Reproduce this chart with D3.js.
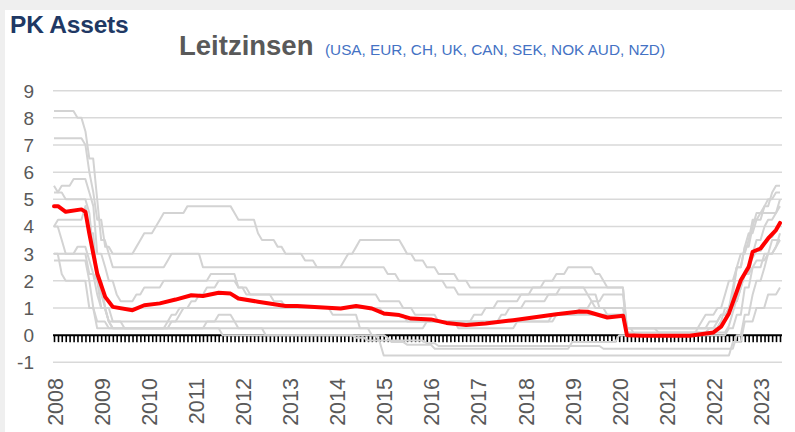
<!DOCTYPE html>
<html>
<head>
<meta charset="utf-8">
<script src="https://cdn.jsdelivr.net/npm/d3@7"></script>
<style>
  html, body { margin: 0; padding: 0; background: #f0f0f0; }
  svg { display: block; }
</style>
</head>
<body>
<div class="container"></div>
<script>
// Leitzinsen (Monatsende), Änderungen je Notenbank: [Monat, Satz]
const usa = [["2008-01",3.0],["2008-03",2.25],["2008-04",2.0],["2008-10",1.0],["2008-12",0.25],["2015-12",0.5],["2016-12",0.75],["2017-03",1.0],["2017-06",1.25],["2017-12",1.5],["2018-03",1.75],["2018-06",2.0],["2018-09",2.25],["2018-12",2.5],["2019-07",2.25],["2019-09",2.0],["2019-10",1.75],["2020-03",0.25],["2022-03",0.5],["2022-05",1.0],["2022-06",1.75],["2022-07",2.5],["2022-09",3.25],["2022-11",4.0],["2022-12",4.5],["2023-02",4.75],["2023-03",5.0],["2023-05",5.25]];
const eur = [["2008-01",3.0],["2008-07",3.25],["2008-10",2.75],["2008-11",2.25],["2008-12",2.0],["2009-01",1.0],["2009-03",0.5],["2009-04",0.25],["2011-04",0.5],["2011-07",0.75],["2011-11",0.5],["2011-12",0.25],["2012-07",0.0],["2014-06",-0.1],["2014-09",-0.2],["2015-12",-0.3],["2016-03",-0.4],["2019-09",-0.5],["2022-07",0.0],["2022-09",0.75],["2022-11",1.5],["2022-12",2.0],["2023-02",2.5],["2023-03",3.0],["2023-05",3.25],["2023-06",3.5]];
const ch = [["2008-01",2.75],["2008-10",2.0],["2008-11",1.0],["2008-12",0.5],["2009-03",0.25],["2011-08",0.0],["2014-12",-0.25],["2015-01",-0.75],["2022-06",-0.25],["2022-09",0.5],["2022-12",1.0],["2023-03",1.5],["2023-06",1.75]];
const uk = [["2008-01",5.5],["2008-02",5.25],["2008-04",5.0],["2008-10",4.5],["2008-11",3.0],["2008-12",2.0],["2009-01",1.5],["2009-02",1.0],["2009-03",0.5],["2016-08",0.25],["2017-11",0.5],["2018-08",0.75],["2020-03",0.1],["2021-12",0.25],["2022-02",0.5],["2022-03",0.75],["2022-05",1.0],["2022-06",1.25],["2022-08",1.75],["2022-09",2.25],["2022-11",3.0],["2022-12",3.5],["2023-02",4.0],["2023-03",4.25],["2023-05",4.5],["2023-06",5.0]];
const can = [["2008-01",4.0],["2008-03",3.5],["2008-04",3.0],["2008-10",2.25],["2008-12",1.5],["2009-01",1.0],["2009-03",0.5],["2009-04",0.25],["2010-06",0.5],["2010-07",0.75],["2010-09",1.0],["2015-01",0.75],["2015-07",0.5],["2017-07",0.75],["2017-09",1.0],["2018-01",1.25],["2018-07",1.5],["2018-10",1.75],["2020-03",0.25],["2022-03",0.5],["2022-04",1.0],["2022-06",1.5],["2022-07",2.5],["2022-09",3.25],["2022-10",3.75],["2022-12",4.25],["2023-01",4.5],["2023-06",4.75]];
const sek = [["2008-01",4.0],["2008-02",4.25],["2008-09",4.75],["2008-10",3.75],["2008-12",2.0],["2009-02",1.0],["2009-04",0.5],["2009-07",0.25],["2010-07",0.5],["2010-09",0.75],["2010-10",1.0],["2010-12",1.25],["2011-02",1.5],["2011-04",1.75],["2011-07",2.0],["2011-12",1.75],["2012-02",1.5],["2012-09",1.25],["2012-12",1.0],["2013-12",0.75],["2014-07",0.25],["2014-10",0.0],["2015-02",-0.1],["2015-03",-0.25],["2015-07",-0.35],["2016-02",-0.5],["2019-01",-0.25],["2020-01",0.0],["2022-05",0.25],["2022-07",0.75],["2022-09",1.75],["2022-11",2.5],["2023-02",3.0],["2023-04",3.5]];
const nok = [["2008-01",5.25],["2008-03",5.5],["2008-06",5.75],["2008-10",5.25],["2008-11",4.75],["2008-12",3.0],["2009-02",2.5],["2009-03",2.0],["2009-05",1.5],["2009-06",1.25],["2009-10",1.5],["2009-12",1.75],["2010-05",2.0],["2011-05",2.25],["2011-12",1.75],["2012-03",1.5],["2014-12",1.25],["2015-06",1.0],["2015-09",0.75],["2016-03",0.5],["2018-09",0.75],["2019-03",1.0],["2019-06",1.25],["2019-09",1.5],["2020-03",0.25],["2020-05",0.0],["2021-09",0.25],["2021-12",0.5],["2022-03",0.75],["2022-06",1.25],["2022-08",1.75],["2022-09",2.25],["2022-11",2.5],["2022-12",2.75],["2023-03",3.0],["2023-05",3.25],["2023-06",3.75]];
const aud = [["2008-01",7.25],["2008-09",7.0],["2008-10",6.0],["2008-11",5.25],["2008-12",4.25],["2009-02",3.25],["2009-04",3.0],["2009-10",3.25],["2009-11",3.5],["2009-12",3.75],["2010-03",4.0],["2010-04",4.25],["2010-05",4.5],["2010-11",4.75],["2011-11",4.5],["2011-12",4.25],["2012-05",3.75],["2012-06",3.5],["2012-10",3.25],["2012-12",3.0],["2013-05",2.75],["2013-08",2.5],["2015-02",2.25],["2015-05",2.0],["2016-05",1.75],["2016-08",1.5],["2019-06",1.25],["2019-07",1.0],["2019-10",0.75],["2020-03",0.25],["2020-11",0.1],["2022-05",0.35],["2022-06",0.85],["2022-07",1.35],["2022-08",1.85],["2022-09",2.35],["2022-10",2.6],["2022-11",2.85],["2022-12",3.1],["2023-02",3.35],["2023-03",3.6],["2023-05",3.85],["2023-06",4.1]];
const nzd = [["2008-01",8.25],["2008-07",8.0],["2008-09",7.5],["2008-10",6.5],["2008-12",5.0],["2009-01",3.5],["2009-03",3.0],["2009-04",2.5],["2010-06",2.75],["2010-07",3.0],["2011-03",2.5],["2014-03",2.75],["2014-04",3.0],["2014-06",3.25],["2014-07",3.5],["2015-06",3.25],["2015-07",3.0],["2015-09",2.75],["2015-12",2.5],["2016-03",2.25],["2016-08",2.0],["2016-11",1.75],["2019-05",1.5],["2019-08",1.0],["2020-03",0.25],["2021-10",0.5],["2021-11",0.75],["2022-02",1.0],["2022-04",1.5],["2022-05",2.0],["2022-07",2.5],["2022-08",3.0],["2022-10",3.5],["2022-11",4.25],["2023-02",4.75],["2023-04",5.25],["2023-05",5.5]];

// Durchschnitt (rote Linie)
const average = [["2008-01",4.75],["2008-02",4.75],["2008-04",4.54],["2008-08",4.63],["2008-09",4.54],["2008-10",3.74],["2008-12",2.27],["2009-02",1.41],["2009-04",1.04],["2009-09",0.92],["2009-12",1.10],["2010-04",1.17],["2010-08",1.31],["2010-12",1.47],["2011-03",1.44],["2011-07",1.56],["2011-10",1.53],["2011-12",1.35],["2012-05",1.23],["2012-12",1.07],["2013-03",1.07],["2014-02",0.98],["2014-06",1.07],["2014-10",0.98],["2015-01",0.80],["2015-05",0.74],["2015-08",0.61],["2016-01",0.58],["2016-05",0.45],["2016-10",0.37],["2017-03",0.43],["2017-10",0.55],["2018-04",0.67],["2018-09",0.77],["2019-03",0.87],["2019-05",0.86],["2019-10",0.65],["2020-02",0.71],["2020-03",0.0],["2020-07",-0.02],["2021-07",-0.02],["2022-01",0.10],["2022-03",0.31],["2022-05",0.80],["2022-08",2.02],["2022-10",2.51],["2022-11",3.07],["2023-01",3.19],["2023-03",3.56],["2023-05",3.87],["2023-06",4.13]];

const greySeries = [usa, eur, ch, uk, can, sek, nok, aud, nzd];
const yTicks = [-1, 0, 1, 2, 3, 4, 5, 6, 7, 8, 9];
const START = "2008-01";
const END = "2023-06";

const WIDTH = 795, HEIGHT = 432;
const GRID_COLOR = "#d9d9d9";
const LINE_COLOR = "#d3d3d3";
const TEXT_COLOR = "#595959";
const FONT = "'Liberation Sans', Arial, sans-serif";

const parseMonth = d3.timeParse("%Y-%m");

const svg = d3.select(".container")
  .append("svg")
  .attr("width", WIDTH)
  .attr("height", HEIGHT)
  .attr("viewBox", `0 0 ${WIDTH} ${HEIGHT}`);

// Hintergrund (Rahmen oben/links grau)
svg.append("rect").attr("x", 0).attr("y", 0).attr("width", WIDTH).attr("height", HEIGHT).attr("fill", "#efefef");
svg.append("rect").attr("x", 5).attr("y", 10).attr("width", WIDTH - 5).attr("height", HEIGHT - 10).attr("fill", "#ffffff");

// Titel
svg.append("text")
  .attr("x", 10).attr("y", 33)
  .attr("font-family", FONT).attr("font-weight", "bold")
  .attr("font-size", "24.5px").attr("fill", "#203864")
  .attr("letter-spacing", "-0.2")
  .text("PK Assets");

svg.append("text")
  .attr("x", 179).attr("y", 55)
  .attr("font-family", FONT).attr("font-weight", "bold")
  .attr("font-size", "27.5px").attr("fill", TEXT_COLOR)
  .text("Leitzinsen");

svg.append("text")
  .attr("x", 325).attr("y", 55)
  .attr("font-family", FONT)
  .attr("font-size", "15.3px").attr("fill", "#4472c4")
  .text("(USA, EUR, CH, UK, CAN, SEK, NOK AUD, NZD)");

// Skalen
const x = d3.scaleTime()
  .domain([parseMonth(START), parseMonth(END)])
  .range([54, 780]);

const y = d3.scaleLinear()
  .domain([-1, 9])
  .range([362.3, 90.7]);

const gridLeft = 53, gridRight = 782;

// Gitternetzlinien
svg.append("g")
  .selectAll("line")
  .data(yTicks.filter(d => d !== 0))
  .enter()
  .append("line")
  .attr("x1", gridLeft).attr("x2", gridRight)
  .attr("y1", d => y(d)).attr("y2", d => y(d))
  .attr("stroke", GRID_COLOR)
  .attr("stroke-width", 1.5);

// Y-Achse Beschriftung
svg.append("g")
  .selectAll("text")
  .data(yTicks)
  .enter()
  .append("text")
  .attr("x", 34)
  .attr("y", d => y(d))
  .attr("dy", "0.36em")
  .attr("text-anchor", "end")
  .attr("font-family", FONT)
  .attr("font-size", "19px")
  .attr("fill", TEXT_COLOR)
  .text(d => d);

// X-Achse (Nulllinie mit Monatsstrichen)
const xAxis = svg.append("g")
  .attr("class", "x-axis")
  .attr("transform", `translate(0,${y(0)})`)
  .call(d3.axisBottom(x)
    .ticks(d3.timeMonth.every(1))
    .tickFormat("")
    .tickSize(7)
    .tickSizeOuter(0));
xAxis.select(".domain").attr("stroke", "#000").attr("stroke-width", 2)
  .attr("d", `M${gridLeft},0H${gridRight}`);
xAxis.selectAll(".tick line").attr("stroke", "#000").attr("stroke-width", 1.6);

// Jahresbeschriftung (senkrecht)
svg.append("g")
  .selectAll("text")
  .data(x.ticks(d3.timeYear.every(1)))
  .enter()
  .append("text")
  .attr("transform", d => `translate(${x(d) + 8.5},378) rotate(-90)`)
  .attr("text-anchor", "end")
  .attr("font-family", FONT)
  .attr("font-size", "21.5px")
  .attr("fill", TEXT_COLOR)
  .text(d3.timeFormat("%Y"));

// Stufenlinie mit einem Monat Übergang (wie Monatswerte in Excel)
const RAMP_PX = x(parseMonth("2008-02")) - x(parseMonth("2008-01"));
function rampStep(context) {
  let x0, y0, started;
  return {
    areaStart() {}, areaEnd() {},
    lineStart() { started = false; },
    lineEnd() {},
    point(px, py) {
      px = +px; py = +py;
      if (!started) { context.moveTo(px, py); started = true; }
      else {
        context.lineTo(Math.max(x0, px - RAMP_PX), y0);
        context.lineTo(px, py);
      }
      x0 = px; y0 = py;
    }
  };
}

const stepLine = d3.line()
  .x(d => x(parseMonth(d[0])))
  .y(d => y(d[1]))
  .curve(rampStep);

greySeries.forEach(series => {
  const pts = series.slice();
  const last = pts[pts.length - 1];
  if (last[0] !== END) pts.push([END, last[1]]);
  svg.append("path")
    .datum(pts)
    .attr("fill", "none")
    .attr("stroke", LINE_COLOR)
    .attr("stroke-width", 2)
    .attr("stroke-linejoin", "round")
    .attr("d", stepLine);
});

// Durchschnitt
const avgLine = d3.line()
  .x(d => x(parseMonth(d[0])))
  .y(d => y(d[1]))
  .curve(d3.curveLinear);

svg.append("path")
  .datum(average)
  .attr("fill", "none")
  .attr("stroke", "#ff0000")
  .attr("stroke-width", 4)
  .attr("stroke-linejoin", "round")
  .attr("stroke-linecap", "round")
  .attr("d", avgLine);
</script>
</body>
</html>
